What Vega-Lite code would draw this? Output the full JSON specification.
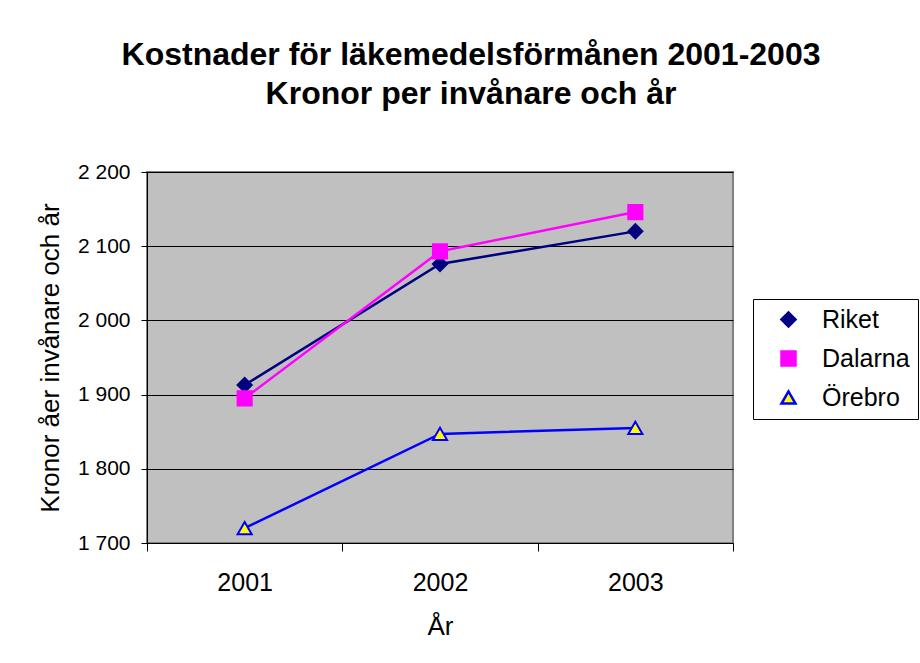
{
  "$schema": "https://vega.github.io/schema/vega-lite/v6.json",
  "width": 586,
  "height": 371,
  "autosize": "none",
  "padding": {"left": 147, "top": 172, "right": 187, "bottom": 120},
  "background": "white",
  "title": {
    "text": ["Kostnader för läkemedelsförmånen 2001-2003", "Kronor per invånare och år"],
    "font": "Liberation Sans",
    "fontSize": 32,
    "fontWeight": "bold",
    "color": "black",
    "lineHeight": 39,
    "anchor": "middle",
    "frame": "group",
    "dx": 31,
    "offset": 50
  },
  "config": {
    "font": "Liberation Sans",
    "view": {"fill": "#C0C0C0", "stroke": "#808080", "strokeWidth": 2},
    "axis": {
      "labelFont": "Liberation Sans",
      "titleFont": "Liberation Sans",
      "labelColor": "black",
      "titleColor": "black",
      "titleFontWeight": "normal",
      "domainColor": "black",
      "tickColor": "black",
      "domainWidth": 1,
      "tickWidth": 1
    },
    "legend": {"labelFont": "Liberation Sans"}
  },
  "data": {
    "values": [
      {"year": "2001", "series": "Riket", "value": 1913},
      {"year": "2002", "series": "Riket", "value": 2076},
      {"year": "2003", "series": "Riket", "value": 2120},
      {"year": "2001", "series": "Dalarna", "value": 1895},
      {"year": "2002", "series": "Dalarna", "value": 2093},
      {"year": "2003", "series": "Dalarna", "value": 2146},
      {"year": "2001", "series": "Örebro", "value": 1720},
      {"year": "2002", "series": "Örebro", "value": 1847},
      {"year": "2003", "series": "Örebro", "value": 1855}
    ]
  },
  "encoding": {
    "x": {
      "field": "year",
      "type": "ordinal",
      "scale": {"type": "band", "paddingInner": 0, "paddingOuter": 0},
      "axis": {
        "title": "År",
        "labelAngle": 0,
        "labelFontSize": 25,
        "titleFontSize": 26,
        "tickSize": 8,
        "tickBand": "extent",
        "labelPadding": 19,
        "titlePadding": 18,
        "grid": false
      }
    },
    "y": {
      "field": "value",
      "type": "quantitative",
      "scale": {"domain": [1700, 2200], "nice": false, "zero": false},
      "axis": {
        "title": "Kronor åer invånare och år",
        "values": [1700, 1800, 1900, 2000, 2100, 2200],
        "labelExpr": "replace(format(datum.value, ','), ',', ' ')",
        "labelFontSize": 21,
        "titleFontSize": 26,
        "tickSize": 6,
        "labelPadding": 11,
        "titlePadding": 14,
        "grid": true,
        "gridColor": "black",
        "gridWidth": 1,
        "gridOpacity": 1
      }
    }
  },
  "layer": [
    {
      "mark": {"type": "line", "strokeWidth": 2.5},
      "encoding": {
        "stroke": {
          "field": "series",
          "type": "nominal",
          "scale": {"domain": ["Riket", "Dalarna", "Örebro"], "range": ["#000080", "#FF00FF", "#0000FF"]}
        }
      }
    },
    {
      "mark": {"type": "point", "filled": true, "size": 200, "strokeWidth": 2, "opacity": 1},
      "encoding": {
        "shape": {
          "field": "series",
          "type": "nominal",
          "scale": {"domain": ["Riket", "Dalarna", "Örebro"], "range": ["diamond", "square", "triangle-up"]},
          "legend": {
            "title": null,
            "orient": "none",
            "legendX": 606,
            "legendY": 127,
            "strokeColor": "black",
            "fillColor": "white",
            "padding": 8,
            "symbolOffset": 15,
            "labelOffset": 21,
            "labelFontSize": 25,
            "labelColor": "black",
            "rowPadding": 13,
            "symbolSize": 196,
            "symbolStrokeWidth": 2.5
          }
        },
        "fill": {
          "field": "series",
          "type": "nominal",
          "scale": {"domain": ["Riket", "Dalarna", "Örebro"], "range": ["#000080", "#FF00FF", "#FFFF00"]}
        },
        "stroke": {
          "field": "series",
          "type": "nominal"
        }
      }
    }
  ]
}
